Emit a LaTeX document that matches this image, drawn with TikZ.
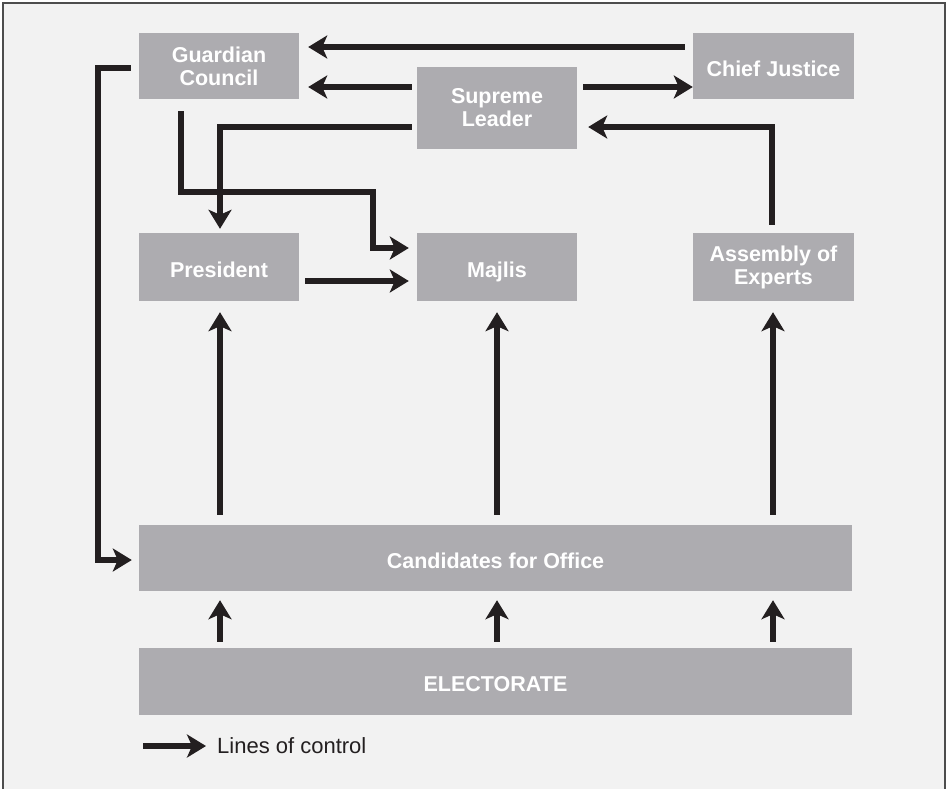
\documentclass[tikz,border=0pt]{standalone}
\usepackage{fontspec}
\setmainfont{Liberation Sans}
\usetikzlibrary{arrows.meta,calc}
\definecolor{bg}{HTML}{F2F2F2}
\definecolor{boxgray}{HTML}{ADACB0}
\definecolor{frame}{HTML}{4D4D4D}
\definecolor{ink}{HTML}{231F20}
\tikzset{
  govbox/.style={fill=boxgray, draw=none, text=white, align=center,
    font=\fontsize{21.5}{23}\selectfont\bfseries, inner sep=0pt},
  oneline/.style={text height=20pt, text depth=0pt},
  arr/.style={draw=ink, line width=5.5pt, line join=miter,
    -{Stealth[length=19pt,width=23pt,inset=5pt]}},
  legtext/.style={text=ink, font=\fontsize{22}{26}\selectfont, inner sep=0pt}
}
\begin{document}
\begin{tikzpicture}[x=1pt,y=-1pt]
\useasboundingbox (0,0) rectangle (947,788);
\fill[bg] (3,3) rectangle (945,800);
\draw[frame, line width=2pt] (3,800) -- (3,3) -- (945,3) -- (945,800);

\node[govbox, minimum width=160pt, minimum height=66pt] (gc) at (219,66) {Guardian\\Council};
\node[govbox, minimum width=160pt, minimum height=82pt] (sl) at (497,108) {Supreme\\Leader};
\node[govbox, oneline, minimum width=161pt, minimum height=66pt] (cj) at (773.5,66) {Chief Justice};
\node[govbox, oneline, minimum width=160pt, minimum height=68pt] (pres) at (219,267) {President};
\node[govbox, oneline, minimum width=160pt, minimum height=68pt] (maj) at (497,267) {Majlis};
\node[govbox, minimum width=161pt, minimum height=68pt] (aoe) at (773.5,267) {Assembly of\\Experts};
\node[govbox, oneline, minimum width=713pt, minimum height=66pt] (cand) at (495.5,558) {Candidates for Office};
\node[govbox, oneline, minimum width=713pt, minimum height=67pt] (elect) at (495.5,681.5) {ELECTORATE};

% top connectors
\draw[arr] ($(cj.west)+(-8,-19)$) -- ($(gc.east)+(9,-19)$);
\draw[arr] ($(sl.west)+(-5,-21)$) -- ($(gc.east)+(9,21)$);
\draw[arr] ($(sl.east)+(6,-21)$) -- ($(cj.west)+(0,21)$);
\draw[arr] ($(sl.west)+(-5,19)$) -| ($(pres.north)+(1,-4)$);
\draw[arr] ($(gc.south)+(-38,12)$) -- ++(0,81) -- ++(192,0) |- ($(maj.west)+(-8,-19)$);
\draw[arr] ($(pres.east)+(6,14)$) -- ($(maj.west)+(-8,14)$);
\draw[arr] ($(aoe.north)+(-1.5,-8)$) |- ($(sl.east)+(11,19)$);
\draw[arr] ($(gc.west)+(-8,2)$) -- ++(-33,0) |- ($(cand.west)+(-7,2)$);

% candidates to offices
\draw[arr] ($(cand.north -| pres.south)+(1,-10)$) -- ($(pres.south)+(1,11)$);
\draw[arr] ($(cand.north -| maj.south)+(0,-10)$) -- ($(maj.south)+(0,11)$);
\draw[arr] ($(cand.north -| aoe.south)+(-0.5,-10)$) -- ($(aoe.south)+(-0.5,11)$);

% electorate to candidates
\draw[arr] ($(elect.north -| pres.south)+(1,-6)$) -- ($(cand.south -| pres.south)+(1,9)$);
\draw[arr] ($(elect.north -| maj.south)+(0,-6)$) -- ($(cand.south -| maj.south)+(0,9)$);
\draw[arr] ($(elect.north -| aoe.south)+(-0.5,-6)$) -- ($(cand.south -| aoe.south)+(-0.5,9)$);

% legend
\node[legtext, anchor=west] (leg) at (217,746) {Lines of control};
\draw[arr] ($(leg.west)+(-74,0)$) -- ($(leg.west)+(-11,0)$);
\end{tikzpicture}
\end{document}
